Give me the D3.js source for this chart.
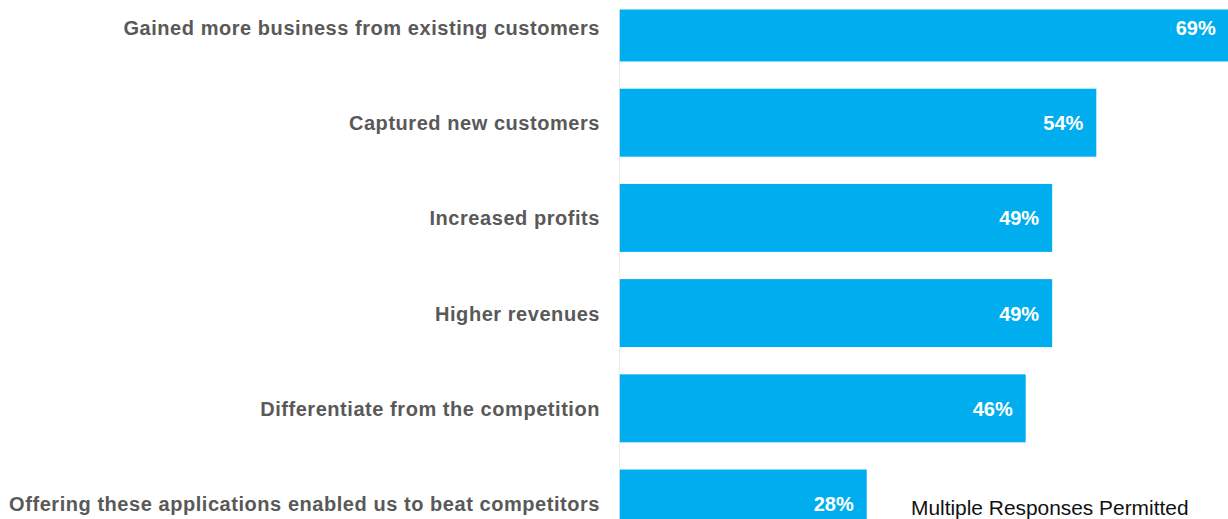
<!DOCTYPE html>
<html>
<head>
<meta charset="utf-8">
<script src="https://cdn.jsdelivr.net/npm/d3@7/dist/d3.min.js"></script>
<style>
  html, body { margin: 0; padding: 0; background: #fff; }
  svg { display: block; }
</style>
</head>
<body>
<svg id="chart" width="1228" height="519"></svg>
<script>
// Survey results: benefits reported by respondents (share of respondents, %)
const categories = [
  "Gained more business from existing customers",
  "Captured new customers",
  "Increased profits",
  "Higher revenues",
  "Differentiate from the competition",
  "Offering these applications enabled us to beat competitors"
];
const values = [69, 54, 49, 49, 46, 28];
const footnote = "Multiple Responses Permitted";

const W = 1228, H = 519;
const svg = d3.select("#chart");

const x = d3.scaleLinear().domain([0, 70]).range([619.5, 1237.6]);
const y = d3.scaleBand()
  .domain(categories)
  .range([-6.5, 537.5])
  .paddingInner(0.286)
  .paddingOuter(0);

// plot area is cropped at the top
svg.append("defs").append("clipPath").attr("id", "plot")
  .append("rect").attr("x", x(0)).attr("y", 9.5).attr("width", W).attr("height", H);

const plot = svg.append("g").attr("clip-path", "url(#plot)");

// vertical category axis line
plot.append("line")
  .attr("x1", x(0)).attr("x2", x(0))
  .attr("y1", 0).attr("y2", H)
  .attr("stroke", "#d9d9d9").attr("stroke-width", 1);

plot.selectAll("rect.bar")
  .data(categories)
  .join("rect")
  .attr("class", "bar")
  .attr("x", x(0))
  .attr("y", d => y(d))
  .attr("width", (d, i) => x(values[i]) - x(0))
  .attr("height", y.bandwidth())
  .attr("fill", "#00AEEF");

plot.selectAll("text.val")
  .data(categories)
  .join("text")
  .attr("class", "val")
  .attr("x", (d, i) => x(values[i]) - 13)
  .attr("y", d => y(d) + y.bandwidth() / 2)
  .attr("dy", "0.37em")
  .attr("text-anchor", "end")
  .attr("font-family", "'Liberation Sans', Arial, sans-serif")
  .attr("font-weight", "bold")
  .attr("font-size", 20)
  .attr("fill", "#ffffff")
  .text((d, i) => values[i] + "%");

// category labels
svg.append("g").selectAll("text")
  .data(categories)
  .join("text")
  .attr("x", 600)
  .attr("y", d => y(d) + y.bandwidth() / 2)
  .attr("dy", "0.37em")
  .attr("text-anchor", "end")
  .attr("font-family", "'Liberation Sans', Arial, sans-serif")
  .attr("font-weight", "bold")
  .attr("font-size", 20)
  .attr("letter-spacing", "0.55px")
  .attr("fill", "#595959")
  .text(d => d);

svg.append("text")
  .attr("x", 911)
  .attr("y", 514.5)
  .attr("font-family", "'Liberation Sans', Arial, sans-serif")
  .attr("font-size", 20.9)
  .attr("fill", "#111111")
  .text(footnote);
</script>
</body>
</html>
